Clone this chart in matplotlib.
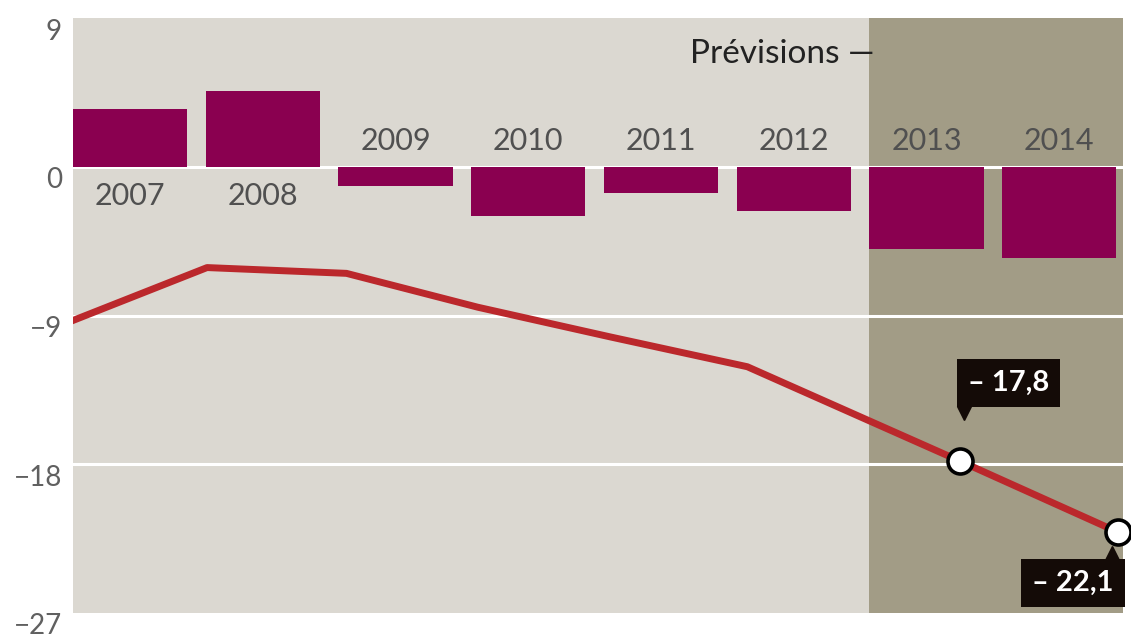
import matplotlib.pyplot as plt
import matplotlib.transforms as mtransforms

years = ["2007", "2008", "2009", "2010", "2011", "2012", "2013", "2014"]
bar_values = [3.5, 4.6, -1.15, -3.0, -1.6, -2.7, -4.95, -5.55]
# x position (in bar slots) of each line vertex
line_pos = [0.0, 1.01, 2.06, 3.05, 4.05, 5.08, 6.68, 7.87]
line_values = [-9.3, -6.1, -6.45, -8.5, -10.3, -12.1, -17.8, -22.1]
y_ticks = [9, 0, -9, -18, -27]
grid_values = [0, -9, -18]
forecast_from = 6
callout_idx = [6, 7]
callout_text = ["– 17,8", "– 22,1"]

plt.rcParams["font.family"] = ["Lato", "DejaVu Sans"]

fig = plt.figure(figsize=(11.31, 6.43), dpi=100)
ax = fig.add_axes([73 / 1131, 30 / 643, 1050 / 1131, 595 / 643])
ax.set_facecolor("#dbd8d1")

ax.axvspan(forecast_from, 8, color="#a29c86", zorder=0, lw=0)
for g in grid_values:
    ax.axhline(g, color="white", lw=2.2, zorder=1)

x = list(range(len(years)))
ax.bar(x, bar_values, width=0.86, align="edge", color="#8a0050", zorder=2)

for i, (yr, v) in enumerate(zip(years, bar_values)):
    if v >= 0:
        ax.text(i + 0.43, -0.95, yr, ha="center", va="top", fontsize=22, color="#505050", zorder=3)
    else:
        ax.text(i + 0.43, 1.0, yr, ha="center", va="baseline", fontsize=22, color="#505050", zorder=3)

ax.plot(line_pos, line_values, color="#bb282c", lw=5, solid_joinstyle="round", zorder=4)

cx = [line_pos[i] for i in callout_idx]
cy = [line_values[i] for i in callout_idx]
ax.plot(cx, cy, "o", ms=18, mfc="white", mec="black", mew=2.6, zorder=6, clip_on=False)

box = dict(boxstyle="square,pad=0.38", fc="#140b07", ec="none")
ax.annotate(callout_text[0], xy=(cx[0], cy[0]), xytext=(5.8, 47), textcoords="offset points",
            ha="left", va="bottom", fontsize=21, fontweight="bold", color="white",
            bbox=box, zorder=7)
ax.annotate(callout_text[1], xy=(cx[1], cy[1]), xytext=(-2.9, -27.4), textcoords="offset points",
            ha="right", va="top", fontsize=21, fontweight="bold", color="white",
            bbox=box, zorder=7, annotation_clip=False)

# little pointers under / above the callout boxes
down = mtransforms.ScaledTranslation(4 / 100, 48 / 100, fig.dpi_scale_trans)
ax.plot([cx[0]], [cy[0]], marker="v", ms=10, color="#140b07", zorder=7,
        transform=ax.transData + down, clip_on=False)
up = mtransforms.ScaledTranslation(-6 / 100, -21 / 100, fig.dpi_scale_trans)
ax.plot([cx[1]], [cy[1]], marker="^", ms=10, color="#140b07", zorder=7,
        transform=ax.transData + up, clip_on=False)

ax.text(forecast_from + 0.04, 6.3, "Prévisions —", ha="right", va="baseline",
        fontsize=24, color="#222222", zorder=3)

ax.set_xlim(0, 7.91)
ax.set_ylim(-27, 9)
ax.set_xticks([])
ax.set_yticks(y_ticks)
ax.set_yticklabels([str(t).replace("-", "−") for t in y_ticks])
ax.tick_params(axis="y", length=0, pad=8, labelsize=20, labelcolor="#606060")
shift = mtransforms.ScaledTranslation(0, -11 / 100, fig.dpi_scale_trans)
for lab in ax.get_yticklabels():
    lab.set_transform(lab.get_transform() + shift)
for s in ax.spines.values():
    s.set_visible(False)

fig.savefig("out.png", dpi=100, facecolor="white")
